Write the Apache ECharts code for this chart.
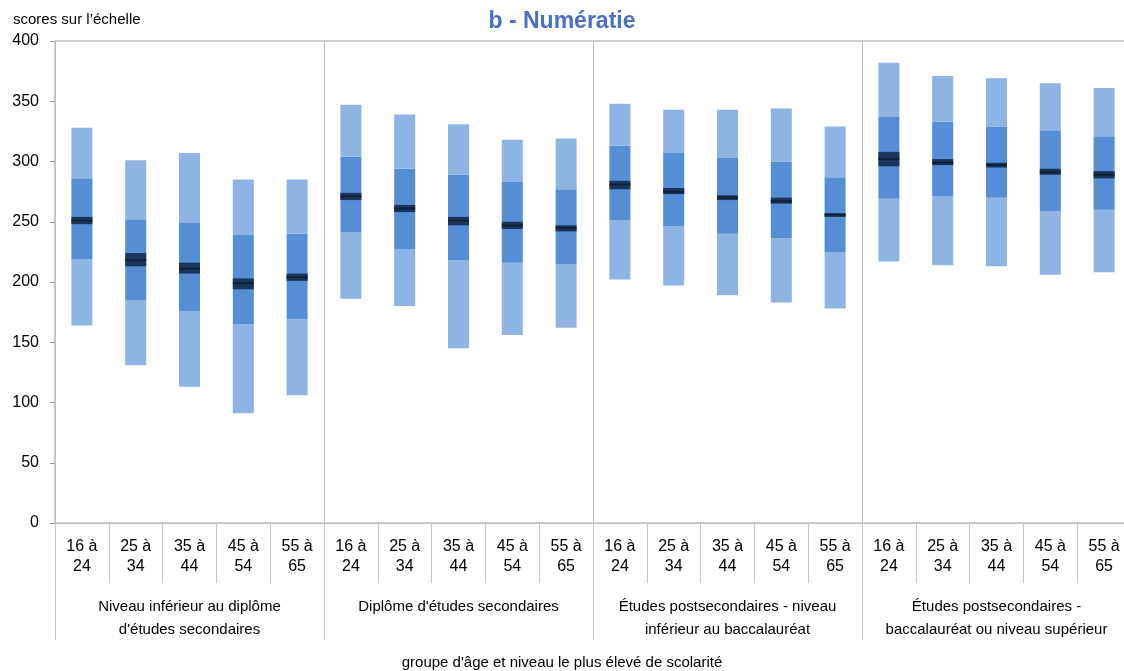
<!DOCTYPE html>
<html>
<head>
<meta charset="utf-8">
<script src="https://cdn.jsdelivr.net/npm/echarts@6/dist/echarts.min.js"></script>
<style>
  html, body { margin: 0; padding: 0; background: #fff; }
  #chart { width: 1124px; height: 671px; }
</style>
</head>
<body>
<div id="chart"></div>
<script>
// catégories (âge) et groupes (scolarité)
var ages = ["16 à\n24", "25 à\n34", "35 à\n44", "45 à\n54", "55 à\n65"];
var groups = [
  "Niveau inférieur au diplôme\nd'études secondaires",
  "Diplôme d'études secondaires",
  "Études postsecondaires - niveau\ninférieur au baccalauréat",
  "Études postsecondaires -\nbaccalauréat ou niveau supérieur"
];
var yTicks = [0, 50, 100, 150, 200, 250, 300, 350, 400];

// percentiles
var p5  = [164, 131, 113, 91, 106, 186, 180, 145, 156, 162, 202, 197, 189, 183, 178, 217, 214, 213, 206, 208];
var p25 = [219, 185, 176, 165, 169, 241, 227, 218, 216, 215, 251, 246, 240, 236, 225, 269, 271, 270, 259, 260];
var p75 = [286, 252, 249, 239, 240, 304, 294, 289, 283, 277, 313, 307, 303, 300, 287, 337, 333, 329, 326, 321];
var p95 = [328, 301, 307, 285, 285, 347, 339, 331, 318, 319, 348, 343, 343, 344, 329, 382, 371, 369, 365, 361];
// moyenne et intervalle de confiance
var moyenne = [251, 218, 211, 199, 204, 271, 261, 251, 247, 245, 281, 275, 270, 267, 256, 302, 299, 297, 291, 289];
var icBas   = [248, 213, 207, 194, 201, 268, 258, 247, 244, 242, 277, 273, 268, 265, 254, 296, 297, 295, 289, 286];
var icHaut  = [254, 224, 216, 203, 207, 274, 264, 254, 250, 247, 284, 278, 272, 270, 257, 308, 302, 299, 294, 292];

var categories = [];
groups.forEach(function () { ages.forEach(function (a) { categories.push(a); }); });

function diff(a, b) { return a.map(function (v, i) { return v - b[i]; }); }

var font = "'Liberation Sans', Arial, sans-serif";
var clair = "#8eb4e3", moyen = "#558ed5", fonce = "#1b365d";
var barW = 21;

var option = {
  animation: false,
  textStyle: { fontFamily: font },
  title: [
    { text: "b - Numératie", left: "center", top: 5,
      textStyle: { color: "#4a6fc4", fontSize: 23, fontWeight: "bold", fontFamily: font } },
    { text: "scores sur l’échelle", left: 8, top: 7,
      textStyle: { color: "#000", fontSize: 15, fontWeight: "normal", fontFamily: font } },
    { text: "groupe d'âge et niveau le plus élevé de scolarité", left: "center", top: 650,
      textStyle: { color: "#000", fontSize: 15, fontWeight: "normal", fontFamily: font } }
  ],
  // la zone de tracé dépasse un peu le bord droit, comme dans l'original
  grid: {
    left: 55, width: 1076, top: 41, bottom: 148,
    outerBoundsMode: "none",
    show: true, borderColor: "#a0a0a0", borderWidth: 1
  },
  xAxis: [
    {
      type: "category",
      data: categories,
      position: "bottom",
      axisLine: { lineStyle: { color: "#bfbfbf" } },
      axisTick: { show: true, interval: 0, length: 60, lineStyle: { color: "#c8c8c8" } },
      axisLabel: { interval: 0, color: "#000", fontSize: 16, lineHeight: 20, margin: 14 },
      splitLine: { show: false }
    },
    {
      type: "category",
      data: groups,
      position: "bottom",
      offset: 60,
      axisLine: { show: false },
      axisTick: { show: true, interval: 0, length: 57, lineStyle: { color: "#c8c8c8" } },
      axisLabel: { interval: 0, color: "#000", fontSize: 15, lineHeight: 23, margin: 12 },
      splitLine: { show: true, interval: 0, lineStyle: { color: "#bdbdbd" } }
    }
  ],
  yAxis: {
    type: "value",
    min: yTicks[0],
    max: yTicks[yTicks.length - 1],
    interval: 50,
    axisLine: { show: true, lineStyle: { color: "#bfbfbf" } },
    axisTick: { show: true, length: 5, lineStyle: { color: "#a0a0a0" } },
    axisLabel: { color: "#000", fontSize: 16, margin: 16 },
    splitLine: { show: false }
  },
  series: [
    { type: "bar", stack: "pct", data: p5, barWidth: barW, barGap: "-100%", silent: true,
      itemStyle: { color: "transparent" } },
    { type: "bar", stack: "pct", data: diff(p25, p5), barWidth: barW, barGap: "-100%", silent: true,
      itemStyle: { color: clair } },
    { type: "bar", stack: "pct", data: diff(p75, p25), barWidth: barW, barGap: "-100%", silent: true,
      itemStyle: { color: moyen } },
    { type: "bar", stack: "pct", data: diff(p95, p75), barWidth: barW, barGap: "-100%", silent: true,
      itemStyle: { color: clair } },
    { type: "bar", stack: "ic", data: icBas, barWidth: barW, barGap: "-100%", silent: true,
      itemStyle: { color: "transparent" } },
    { type: "bar", stack: "ic", data: diff(icHaut, icBas), barWidth: barW, barGap: "-100%", silent: true,
      itemStyle: { color: fonce } },
    { type: "scatter", data: moyenne, symbol: "rect", symbolSize: [barW, 2], silent: true,
      itemStyle: { color: "#0c1a2e" }, z: 5 }
  ]
};

var chart = echarts.init(document.getElementById("chart"));
chart.setOption(option);
</script>
</body>
</html>
